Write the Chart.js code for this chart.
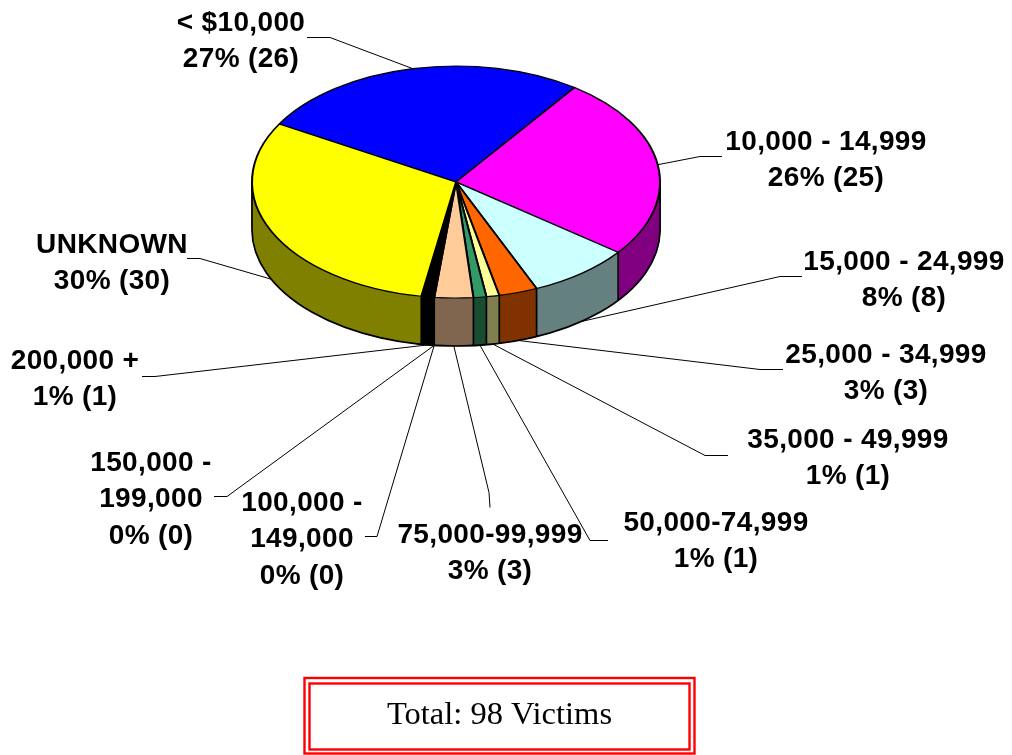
<!DOCTYPE html>
<html>
<head>
<meta charset="utf-8">
<script src="https://cdn.jsdelivr.net/npm/chart.js@4"></script>
<style>html,body{margin:0;padding:0;background:#fff}canvas{display:block}</style>
</head>
<body>
<canvas id="c" width="1012" height="755"></canvas>
<script>
// Data
const categories = ['< $10,000','10,000 - 14,999','15,000 - 24,999','25,000 - 34,999','35,000 - 49,999','50,000-74,999','75,000-99,999','100,000 -|149,000','150,000 -|199,000','200,000 +','UNKNOWN'];
const victims  = [26,25,8,3,1,1,3,0,0,1,30];
const percents = [27,26,8,3,1,1,3,0,0,1,30];
const totalLabel = 'Total: 98 Victims';
// Styles
const topColors  = ['#0000ff','#ff00ff','#ccffff','#ff6600','#ffff99','#339966','#ffcc99','#c0c0c0','#808080','#000000','#ffff00'];
const sideColors = ['#000080','#800080','#668080','#803300','#808050','#1a4d33','#806650','#606060','#404040','#000000','#808000'];
// Layout
const labelCx = [241,826,904,886,848,716,490,302,151,75,112];
const labelY0 = [23,142,262,355,440,523,535,503,463,361,245];
const lineStep = 36.6;
const leaderEnd   = [[307,37],[722,156],[802,276],[783,369],[728,455],[608,540],[490,507],[365,536],[214,496],[142,376],[187,258]];
const leaderElbow = [[330,37],[700,156],[780,276],[760,369],[705,455],[590,540],[489,492],[377,536],[227,496],[155,376],[200,258]];
const CY = 182, RY = 116, DEPTH = 48;

const pie3d = {
  id:'pie3d',
  beforeDatasetDraw(chart,args){
    const ctx = chart.ctx, arcs = args.meta.data, a0 = arcs[0];
    const cx = a0.x, ay = a0.y, R = a0.outerRadius, sy = RY/R;
    const squash = (dy)=>{ ctx.translate(cx,CY+dy); ctx.scale(1,sy); ctx.translate(-cx,-ay); };
    // leader lines
    ctx.save();
    ctx.strokeStyle='#000'; ctx.lineWidth=1;
    arcs.forEach((arc,i)=>{
      const m=(arc.startAngle+arc.endAngle)/2;
      const px=cx+R*Math.cos(m), py=CY+RY*Math.sin(m)+(Math.sin(m)>0?DEPTH:0);
      ctx.beginPath();
      ctx.moveTo(leaderEnd[i][0],leaderEnd[i][1]+.5);
      ctx.lineTo(leaderElbow[i][0],leaderElbow[i][1]+.5);
      ctx.lineTo(px,py);
      ctx.stroke();
    });
    ctx.restore();
    // wall: stacked copies of the same arcs, darkened
    for(let d=DEPTH;d>=1;d--){
      ctx.save(); squash(d);
      arcs.forEach((arc,i)=>{
        if(arc.endAngle-arc.startAngle<=0) return;
        const o=arc.options;
        arc.options=Object.assign({},o,{backgroundColor:sideColors[i],borderColor:sideColors[i],borderWidth:1});
        arc.draw(ctx);
        arc.options=o;
      });
      ctx.restore();
    }
    // wall outline
    ctx.save();
    ctx.strokeStyle='#000'; ctx.lineWidth=1.7;
    ctx.beginPath();
    ctx.ellipse(cx,CY+DEPTH,R,RY,0,0,Math.PI);
    ctx.moveTo(cx-R,CY); ctx.lineTo(cx-R,CY+DEPTH);
    ctx.moveTo(cx+R,CY); ctx.lineTo(cx+R,CY+DEPTH);
    arcs.forEach(arc=>{
      const s=Math.sin(arc.startAngle);
      if(s>0){
        const x=cx+R*Math.cos(arc.startAngle), y=CY+RY*s;
        ctx.moveTo(x,y); ctx.lineTo(x,y+DEPTH);
      }
    });
    ctx.stroke();
    ctx.restore();
    // top face is drawn by the controller under this transform
    ctx.save(); squash(0);
  },
  afterDatasetDraw(chart){ chart.ctx.restore(); },
  afterDraw(chart){
    const ctx=chart.ctx;
    ctx.save();
    ctx.fillStyle='#000';
    ctx.font='bold 28px "Liberation Sans"';
    ctx.letterSpacing='0.35px';
    ctx.textAlign='center'; ctx.textBaseline='middle';
    categories.forEach((c,i)=>{
      const lines=c.split('|').concat(percents[i]+'% ('+victims[i]+')');
      lines.forEach((t,k)=>ctx.fillText(t,labelCx[i],labelY0[i]+k*lineStep));
    });
    ctx.letterSpacing='0px';
    // total box
    ctx.strokeStyle='#ff0000';
    ctx.lineWidth=2.4; ctx.strokeRect(304.5,678,390,75.5);
    ctx.lineWidth=2.4; ctx.strokeRect(309.5,683.5,380,66);
    ctx.font='32.5px "Liberation Serif"';
    ctx.fillText(totalLabel,499.5,715.5);
    ctx.restore();
  }
};

new Chart(document.getElementById('c'),{
  type:'pie',
  data:{labels:categories.map(s=>s.replace('|',' ')),datasets:[{
    data:victims,backgroundColor:topColors,borderColor:'#000000',borderWidth:2,clip:false
  }]},
  options:{
    responsive:false,animation:false,rotation:-60,
    layout:{padding:{left:251,right:351,top:95,bottom:250}},
    plugins:{legend:{display:false},tooltip:{enabled:false},title:{display:false}}
  },
  plugins:[pie3d]
});
</script>
</body>
</html>
